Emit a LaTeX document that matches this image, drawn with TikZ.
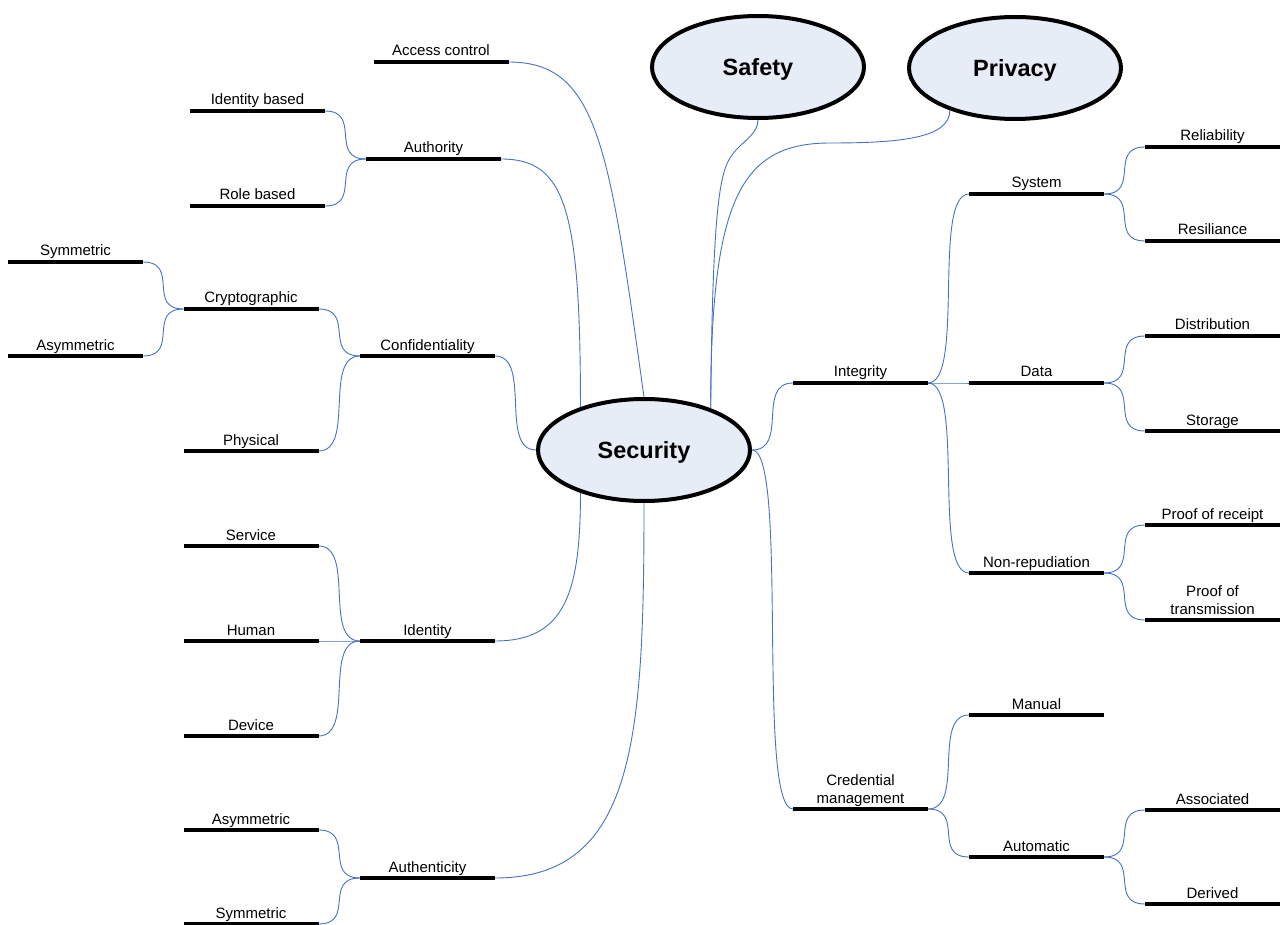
\documentclass[tikz,border=0pt]{standalone}
\usepackage{fontspec}
\setmainfont{Liberation Sans}
\usepackage{xcolor}
\usetikzlibrary{shapes.geometric}
\definecolor{bubble}{RGB}{230,237,247}
\definecolor{linkblue}{RGB}{68,114,196}

\begin{document}
\begin{tikzpicture}[x=1pt, y=-1pt,
   topic/.style={ellipse, draw, line width=4pt, fill=bubble, minimum width=212pt, minimum height=102pt, text depth=0pt, font=\fontsize{23.5}{28}\selectfont\bfseries},
   bar/.style={fill=black, minimum width=135pt, minimum height=4pt, inner sep=0pt, outer sep=0pt, label distance=5pt},
   lbl/.style={anchor=base, inner sep=0pt, yshift=4pt, font=\fontsize{15}{18}\selectfont, align=center},
   link/.style={draw=linkblue, line width=0.9pt},
   branch/.style={link, to path={.. controls +(37,0) and +(-37,0) .. (\tikztotarget)}}]
   \useasboundingbox (0,0) rectangle (1280,925);

   % main bubbles
   \node [topic] (sec) at (644,450) {Security};
   \node [topic] (saf) at (758,67) {Safety};
   \node [topic] (priv) at (1015,68) {Privacy};

   % left side
   \node [bar, label={[lbl]above:Access control}] (acc) at (441,62) {};
   \node [bar, label={[lbl]above:Identity based}] (idb) at (257.5,111) {};
   \node [bar, label={[lbl]above:Authority}] (auth) at (433.5,159) {};
   \node [bar, label={[lbl]above:Role based}] (role) at (257.5,206) {};
   \node [bar, label={[lbl]above:Symmetric}] (sym1) at (75.5,262) {};
   \node [bar, label={[lbl]above:Cryptographic}] (crypt) at (251,309) {};
   \node [bar, label={[lbl]above:Asymmetric}] (asym1) at (75.5,356) {};
   \node [bar, label={[lbl]above:Confidentiality}] (conf) at (427.5,356) {};
   \node [bar, label={[lbl]above:Physical}] (phys) at (251,451) {};
   \node [bar, label={[lbl]above:Service}] (serv) at (251,546) {};
   \node [bar, label={[lbl]above:Human}] (hum) at (251,641) {};
   \node [bar, label={[lbl]above:Identity}] (iden) at (427.5,641) {};
   \node [bar, label={[lbl]above:Device}] (dev) at (251,736) {};
   \node [bar, label={[lbl]above:Asymmetric}] (asym2) at (251,830) {};
   \node [bar, label={[lbl]above:Authenticity}] (authn) at (427.5,878) {};
   \node [bar, label={[lbl]above:Symmetric}] (sym2) at (251,924) {};

   % right side
   \node [bar, label={[lbl]above:Integrity}] (integ) at (860.5,383) {};
   \node [bar, label={[lbl]above:System}] (sys) at (1036.5,194) {};
   \node [bar, label={[lbl]above:Reliability}] (rel) at (1212.5,147) {};
   \node [bar, label={[lbl]above:Resiliance}] (resil) at (1212.5,241) {};
   \node [bar, label={[lbl]above:Data}] (data) at (1036.5,383) {};
   \node [bar, label={[lbl]above:Distribution}] (distr) at (1212.5,336) {};
   \node [bar, label={[lbl]above:Storage}] (stor) at (1212.5,431) {};
   \node [bar, label={[lbl]above:Non-repudiation}] (nonrep) at (1036.5,573) {};
   \node [bar, label={[lbl]above:Proof of receipt}] (por) at (1212.5,525) {};
   \node [bar, label={[lbl]above:Proof of\\transmission}] (pot) at (1212.5,620) {};
   \node [bar, label={[lbl]above:Credential\\management}] (cred) at (860.5,809) {};
   \node [bar, label={[lbl]above:Manual}] (man) at (1036.5,715) {};
   \node [bar, label={[lbl]above:Automatic}] (auto) at (1036.5,857) {};
   \node [bar, label={[lbl]above:Associated}] (assoc) at (1212.5,810) {};
   \node [bar, label={[lbl]above:Derived}] (deriv) at (1212.5,904) {};

   % links into the bubbles
   \coordinate (sbend) at (736,150);
   \coordinate (pbend) at (830,143);
   \draw [link] (acc.east) .. controls +(90,0) and +(-35,-250) .. (sec.north);
   \draw [link] (auth.east) .. controls +(64,0) and +(0,-200) .. (sec.146);
   \draw [link] (iden.east) .. controls +(70,0) and +(0,100) .. (sec.214);
   \draw [link] (authn.east) .. controls +(140,0) and +(0,237) .. (sec.south);
   \draw [link] (saf.south) .. controls +(0,13) and +(9,-10) .. (sbend)
      .. controls +(-14,16) and +(2,-228) .. (sec.32);
   \draw [link] (priv.213) .. controls +(0,28) and +(70,0) .. (pbend)
      .. controls +(-90,0) and +(0,-208) .. (sec.32);
   \path (conf.east) edge [branch] (sec.west);
   \path (sec.east) edge [branch] (integ.west);
   \path (sec.east) edge [branch] (cred.west);

   % branches
   \path (idb.east) edge [branch] (auth.west);
   \path (role.east) edge [branch] (auth.west);
   \path (sym1.east) edge [branch] (crypt.west);
   \path (asym1.east) edge [branch] (crypt.west);
   \path (crypt.east) edge [branch] (conf.west);
   \path (phys.east) edge [branch] (conf.west);
   \path (serv.east) edge [branch] (iden.west);
   \path (hum.east) edge [branch] (iden.west);
   \path (dev.east) edge [branch] (iden.west);
   \path (asym2.east) edge [branch] (authn.west);
   \path (sym2.east) edge [branch] (authn.west);
   \path (integ.east) edge [branch] (sys.west);
   \path (integ.east) edge [branch] (data.west);
   \path (integ.east) edge [branch] (nonrep.west);
   \path (sys.east) edge [branch] (rel.west);
   \path (sys.east) edge [branch] (resil.west);
   \path (data.east) edge [branch] (distr.west);
   \path (data.east) edge [branch] (stor.west);
   \path (nonrep.east) edge [branch] (por.west);
   \path (nonrep.east) edge [branch] (pot.west);
   \path (cred.east) edge [branch] (man.west);
   \path (cred.east) edge [branch] (auto.west);
   \path (auto.east) edge [branch] (assoc.west);
   \path (auto.east) edge [branch] (deriv.west);
\end{tikzpicture}
\end{document}
